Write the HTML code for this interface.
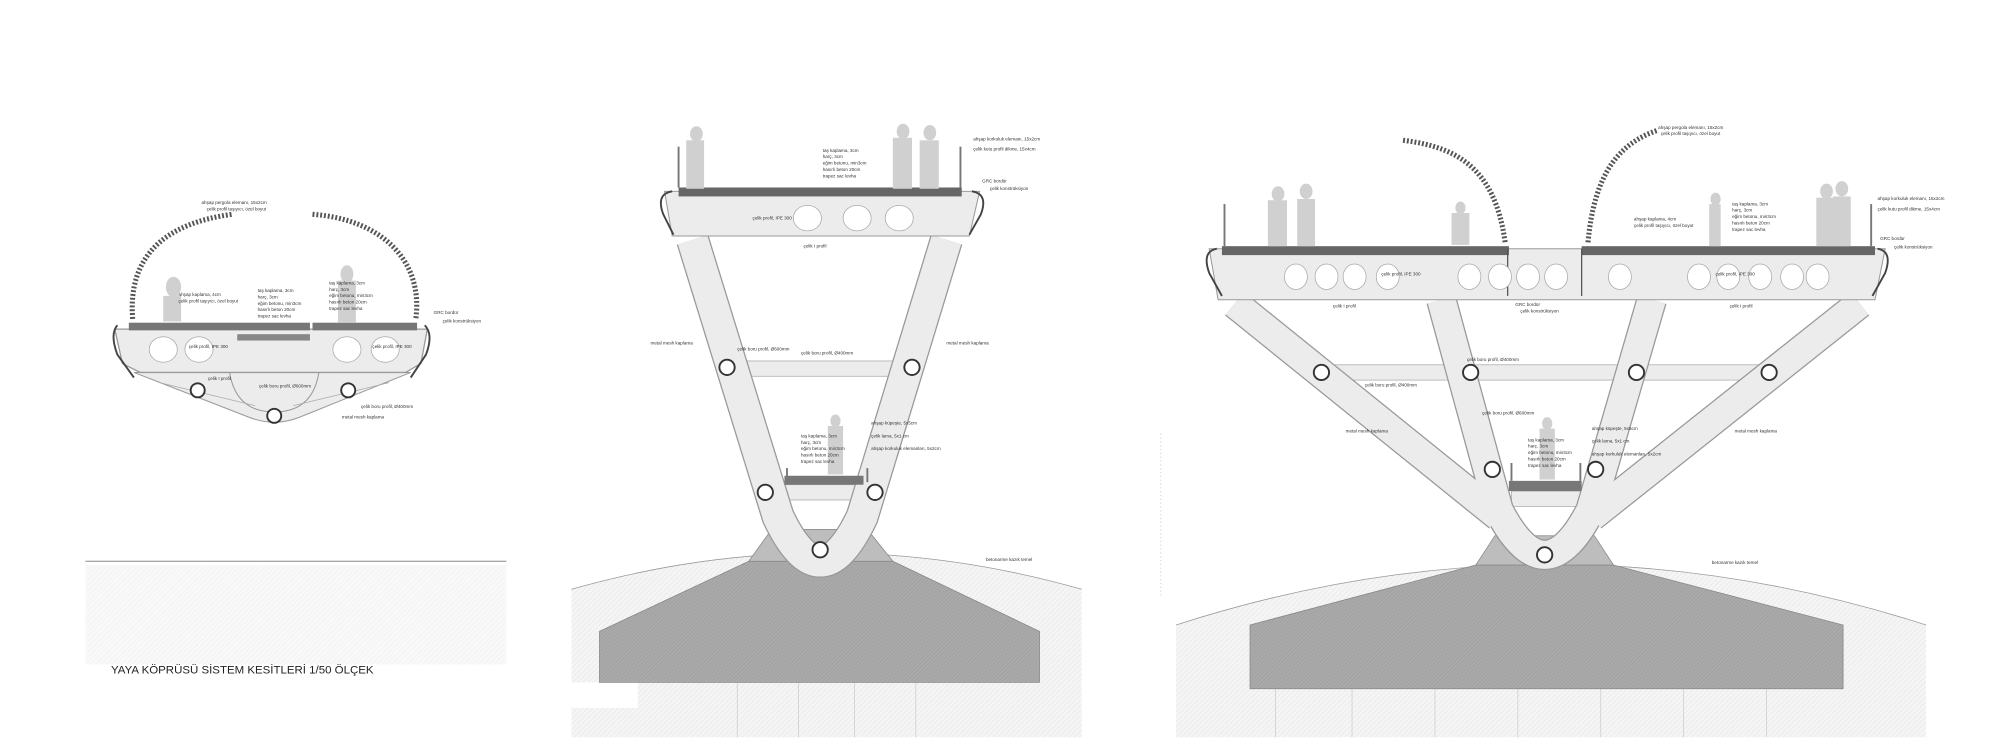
<!DOCTYPE html>
<html><head><meta charset="utf-8"><style>
html,body{margin:0;padding:0;background:#fff;}
svg{display:block;}
text{font-family:"Liberation Sans",sans-serif;fill:#333;}
</style></head><body>
<svg width="2000" height="750" viewBox="0 0 1568 588" xmlns="http://www.w3.org/2000/svg">
<defs>
<pattern id="hat" width="4" height="4" patternUnits="userSpaceOnUse"><rect width="4" height="4" fill="#f5f5f5"/><path d="M0 4L4 0" stroke="#e6e6e6" stroke-width="0.5"/></pattern>
<pattern id="conc" width="3" height="3" patternUnits="userSpaceOnUse"><rect width="3" height="3" fill="#aaa"/><path d="M0 3L3 0" stroke="#9c9c9c" stroke-width="0.5"/></pattern>
</defs>

<!-- ================= LEFT SECTION ================= -->
<g fill="none" stroke="#555" stroke-width="4" stroke-dasharray="1.5 1.5">
<path d="M104 250 C100 200 130 175 182 168"/>
<path d="M245 168 C300 172 332 205 326 250"/>
</g>
<path d="M105 292 L195 327 Q215 335 235 327 L322 292 Z" fill="#ececec" stroke="#999" stroke-width="0.8"/>
<path d="M180 292 Q185 323 215 323 Q245 323 250 292" fill="none" stroke="#999" stroke-width="0.8"/>
<path d="M125 300 L200 318" stroke="#aaa" stroke-width="0.6"/>
<path d="M305 300 L230 318" stroke="#aaa" stroke-width="0.6"/>
<path d="M90 258 L335 258 L330 285 L318 292 L110 292 L96 285 Z" fill="#ececec" stroke="#999"/>
<path d="M92 255 Q86 262 92 278 L105 296" fill="none" stroke="#444" stroke-width="1.5"/>
<path d="M333 255 Q340 262 334 278 L322 296" fill="none" stroke="#444" stroke-width="1.5"/>
<rect x="101" y="253" width="142" height="6" fill="#777"/>
<rect x="245" y="253" width="82" height="6" fill="#777"/>
<rect x="186" y="262" width="57" height="5" fill="#888"/>
<ellipse cx="128" cy="274" rx="11" ry="10" fill="#fff" stroke="#aaa" stroke-width="0.6"/>
<ellipse cx="156" cy="274" rx="11" ry="10" fill="#fff" stroke="#aaa" stroke-width="0.6"/>
<ellipse cx="272" cy="274" rx="11" ry="10" fill="#fff" stroke="#aaa" stroke-width="0.6"/>
<ellipse cx="302" cy="274" rx="11" ry="10" fill="#fff" stroke="#aaa" stroke-width="0.6"/>
<g fill="#fff" stroke="#333" stroke-width="1.5">
<circle cx="155" cy="306" r="5.5"/><circle cx="215" cy="326" r="5.5"/><circle cx="273" cy="306" r="5.5"/>
</g>
<g fill="#d0d0d0"><ellipse cx="136" cy="225" rx="6" ry="8"/><rect x="128" y="232" width="14" height="20"/><ellipse cx="272" cy="215" rx="5" ry="7"/><rect x="265" y="220" width="14" height="33"/></g>
<g font-size="3.6">
<text x="158" y="160">ahşap pergola elemanı, 15x2cm</text><text x="162" y="165">çelik profil taşıyıcı, özel boyut</text>
<text x="140" y="232">ahşap kaplama, 4cm</text><text x="140" y="237">çelik profil taşıyıcı, özel boyut</text>
<text x="202" y="229">taş kaplama, 3cm</text><text x="202" y="234">harç, 3cm</text><text x="202" y="239">eğim betonu, min3cm</text><text x="202" y="244">hasırlı beton 20cm</text><text x="202" y="249">trapez sac levha</text>
<text x="258" y="223">taş kaplama, 3cm</text><text x="258" y="228">harç, 3cm</text><text x="258" y="233">eğim betonu, min3cm</text><text x="258" y="238">hasırlı beton 20cm</text><text x="258" y="243">trapez sac levha</text>
<text x="340" y="246">GRC bordür</text><text x="347" y="253">çelik konstrüksiyon</text>
<text x="148" y="273">çelik profil, IPE 300</text><text x="292" y="273">çelik profil, IPE 300</text>
<text x="163" y="298">çelik I profil</text><text x="203" y="304">çelik boru profil, Ø600mm</text>
<text x="283" y="320">çelik boru profil, Ø400mm</text><text x="268" y="328">metal mesh kaplama</text>
</g>
<line x1="67" y1="440" x2="397" y2="440" stroke="#888" stroke-width="0.8"/>
<rect x="67" y="443" width="330" height="78" fill="url(#hat)" opacity="0.6"/>
<text x="87" y="528" font-size="9" style="fill:#222">YAYA KÖPRÜSÜ SİSTEM KESİTLERİ 1/50 ÖLÇEK</text>
<line x1="910" y1="340" x2="910" y2="468" stroke="#ddd" stroke-width="1" stroke-dasharray="1 2"/>

<!-- ================= MIDDLE SECTION ================= -->
<path d="M448 462 Q648 405 848 462 L848 578 L448 578 Z" fill="url(#hat)"/>
<path d="M448 462 Q648 405 848 462" fill="none" stroke="#999" stroke-width="0.6"/>
<rect x="448" y="535" width="52" height="20" fill="#fff"/>
<g stroke="#ccc" stroke-width="0.6"><line x1="578" y1="535" x2="578" y2="578"/><line x1="626" y1="535" x2="626" y2="578"/><line x1="670" y1="535" x2="670" y2="578"/><line x1="718" y1="535" x2="718" y2="578"/></g>
<path d="M470 495 L587 440 L700 440 L815 495 L815 535 L470 535 Z" fill="url(#conc)" stroke="#888" stroke-width="0.6"/>
<path d="M587 440 L605 415 L680 415 L700 440 Z" fill="#bdbdbd" stroke="#888" stroke-width="0.6"/>
<rect x="582" y="283" width="140" height="12" fill="#ececec" stroke="#aaa" stroke-width="0.6"/>
<rect x="612" y="380" width="68" height="12" fill="#ececec" stroke="#aaa" stroke-width="0.6"/>
<path d="M543 188 L610 405 Q643 475 676 405 L742 188" fill="none" stroke="#999" stroke-width="26"/>
<path d="M543 188 L610 405 Q643 475 676 405 L742 188" fill="none" stroke="#ececec" stroke-width="24"/>
<path d="M521 150 L768 150 L760 185 L527 185 Z" fill="#ececec" stroke="#999" stroke-width="0.8"/>
<path d="M527 150 Q514 152 520 168 L528 184" fill="none" stroke="#444" stroke-width="1.5"/>
<path d="M762 150 Q775 152 769 168 L760 184" fill="none" stroke="#444" stroke-width="1.5"/>
<rect x="532" y="147" width="222" height="7" fill="#666"/>
<g fill="#fff" stroke="#aaa" stroke-width="0.6"><ellipse cx="633" cy="171" rx="11" ry="10"/><ellipse cx="672" cy="171" rx="11" ry="10"/><ellipse cx="705" cy="171" rx="11" ry="10"/></g>
<g stroke="#777" stroke-width="1.5"><line x1="532" y1="115" x2="532" y2="147"/><line x1="753" y1="115" x2="753" y2="147"/><line x1="617" y1="367" x2="617" y2="378"/><line x1="680" y1="367" x2="680" y2="378"/></g>
<rect x="615" y="373" width="62" height="7" fill="#777"/>
<g fill="#d0d0d0"><ellipse cx="546" cy="105" rx="5" ry="6"/><rect x="538" y="110" width="14" height="38"/><ellipse cx="708" cy="103" rx="5" ry="6"/><rect x="700" y="108" width="15" height="40"/><ellipse cx="729" cy="104" rx="5" ry="6"/><rect x="721" y="110" width="15" height="38"/><ellipse cx="655" cy="330" rx="4" ry="5"/><rect x="649" y="334" width="12" height="38"/></g>
<g fill="#fff" stroke="#333" stroke-width="1.5">
<circle cx="570" cy="288" r="6"/><circle cx="715" cy="288" r="6"/><circle cx="600" cy="386" r="6"/><circle cx="686" cy="386" r="6"/><circle cx="643" cy="431" r="6"/>
</g>
<g font-size="3.6">
<text x="645" y="119">taş kaplama, 3cm</text><text x="645" y="124">harç, 3cm</text><text x="645" y="129">eğim betonu, min3cm</text><text x="645" y="134">hasırlı beton 20cm</text><text x="645" y="139">trapez sac levha</text>
<text x="763" y="110">ahşap korkuluk elemanı, 15x2cm</text><text x="763" y="118">çelik kutu profil dikme, 15x4cm</text>
<text x="770" y="143">GRC bordür</text><text x="776" y="149">çelik konstrüksiyon</text>
<text x="590" y="172">çelik profil, IPE 300</text><text x="630" y="194">çelik I profil</text>
<text x="510" y="270">metal mesh kaplama</text><text x="742" y="270">metal mesh kaplama</text>
<text x="578" y="275">çelik boru profil, Ø600mm</text><text x="628" y="278">çelik boru profil, Ø400mm</text>
<text x="683" y="333">ahşap küpeşte, 5x5cm</text><text x="683" y="343">çelik lama, 5x1 cm</text><text x="683" y="353">ahşap korkuluk elemanları, 5x2cm</text>
<text x="628" y="343">taş kaplama, 3cm</text><text x="628" y="348">harç, 3cm</text><text x="628" y="353">eğim betonu, min3cm</text><text x="628" y="358">hasırlı beton 20cm</text><text x="628" y="363">trapez sac levha</text>
<text x="773" y="440">betonarme kazık temel</text>
</g>

<!-- ================= RIGHT SECTION ================= -->
<path d="M922 490 Q1216 395 1510 490 L1510 578 L922 578 Z" fill="url(#hat)"/>
<path d="M922 490 Q1216 395 1510 490" fill="none" stroke="#999" stroke-width="0.6"/>
<g stroke="#ccc" stroke-width="0.6"><line x1="1000" y1="540" x2="1000" y2="578"/><line x1="1060" y1="540" x2="1060" y2="578"/><line x1="1125" y1="540" x2="1125" y2="578"/><line x1="1190" y1="540" x2="1190" y2="578"/><line x1="1255" y1="540" x2="1255" y2="578"/><line x1="1320" y1="540" x2="1320" y2="578"/><line x1="1385" y1="540" x2="1385" y2="578"/></g>
<path d="M980 490 L1157 443 L1265 443 L1445 490 L1445 540 L980 540 Z" fill="url(#conc)" stroke="#888" stroke-width="0.6"/>
<path d="M1157 443 L1172 420 L1250 420 L1265 443 Z" fill="#bdbdbd" stroke="#888" stroke-width="0.6"/>
<rect x="1036" y="286" width="352" height="12" fill="#ececec" stroke="#aaa" stroke-width="0.6"/>
<rect x="1185" y="385" width="55" height="12" fill="#ececec" stroke="#aaa" stroke-width="0.6"/>
<g fill="none" stroke="#999" stroke-width="24">
<path d="M968 238 L1175 405"/><path d="M1458 238 L1248 405"/>
<path d="M1130 235 L1175 400 Q1211 470 1247 400 L1295 235"/>
</g>
<g fill="none" stroke="#ececec" stroke-width="22">
<path d="M968 238 L1175 405"/><path d="M1458 238 L1248 405"/>
<path d="M1130 235 L1175 400 Q1211 470 1247 400 L1295 235"/>
</g>
<path d="M948 195 L1478 195 L1470 235 L955 235 Z" fill="#ececec" stroke="#999" stroke-width="0.8"/>
<path d="M954 195 Q942 197 948 214 L958 232" fill="none" stroke="#444" stroke-width="1.5"/>
<path d="M1472 195 Q1484 197 1478 214 L1468 232" fill="none" stroke="#444" stroke-width="1.5"/>
<rect x="958" y="193" width="225" height="7" fill="#666"/>
<rect x="1240" y="193" width="230" height="7" fill="#666"/>
<line x1="1182" y1="195" x2="1182" y2="232" stroke="#555" stroke-width="1"/>
<line x1="1240" y1="195" x2="1240" y2="232" stroke="#555" stroke-width="1"/>
<g fill="#fff" stroke="#aaa" stroke-width="0.6">
<ellipse cx="1016" cy="217" rx="9" ry="10"/><ellipse cx="1040" cy="217" rx="9" ry="10"/><ellipse cx="1062" cy="217" rx="9" ry="10"/><ellipse cx="1088" cy="217" rx="9" ry="10"/><ellipse cx="1152" cy="217" rx="9" ry="10"/><ellipse cx="1176" cy="217" rx="9" ry="10"/><ellipse cx="1198" cy="217" rx="9" ry="10"/><ellipse cx="1220" cy="217" rx="9" ry="10"/><ellipse cx="1270" cy="217" rx="9" ry="10"/><ellipse cx="1332" cy="217" rx="9" ry="10"/><ellipse cx="1355" cy="217" rx="9" ry="10"/><ellipse cx="1380" cy="217" rx="9" ry="10"/><ellipse cx="1405" cy="217" rx="9" ry="10"/><ellipse cx="1425" cy="217" rx="9" ry="10"/>
</g>
<g fill="none" stroke="#555" stroke-width="4" stroke-dasharray="1.5 1.5">
<path d="M1100 110 C1140 115 1172 130 1180 190"/>
<path d="M1245 190 C1250 135 1270 112 1300 102"/>
</g>
<g stroke="#777" stroke-width="1.5"><line x1="960" y1="160" x2="960" y2="193"/><line x1="1467" y1="160" x2="1467" y2="193"/><line x1="1185" y1="363" x2="1185" y2="377"/><line x1="1239" y1="363" x2="1239" y2="377"/></g>
<rect x="1183" y="377" width="57" height="8" fill="#777"/>
<g fill="#d0d0d0"><ellipse cx="1002" cy="152" rx="5" ry="6"/><rect x="994" y="157" width="15" height="36"/><ellipse cx="1024" cy="150" rx="5" ry="6"/><rect x="1017" y="156" width="14" height="37"/><ellipse cx="1145" cy="163" rx="4" ry="5"/><rect x="1138" y="167" width="14" height="25"/><ellipse cx="1345" cy="156" rx="4" ry="5"/><rect x="1340" y="160" width="9" height="33"/><ellipse cx="1432" cy="150" rx="5" ry="6"/><rect x="1424" y="155" width="15" height="38"/><ellipse cx="1444" cy="148" rx="5" ry="6"/><rect x="1437" y="154" width="14" height="39"/><ellipse cx="1213" cy="332" rx="4" ry="5"/><rect x="1207" y="336" width="12" height="40"/></g>
<g fill="#fff" stroke="#333" stroke-width="1.5">
<circle cx="1036" cy="292" r="6"/><circle cx="1153" cy="292" r="6"/><circle cx="1283" cy="292" r="6"/><circle cx="1387" cy="292" r="6"/><circle cx="1170" cy="368" r="6"/><circle cx="1251" cy="368" r="6"/><circle cx="1211" cy="435" r="6"/>
</g>
<g font-size="3.6">
<text x="1300" y="101">ahşap pergola elemanı, 15x2cm</text><text x="1302" y="106">çelik profil taşıyıcı, özel boyut</text>
<text x="1281" y="173">ahşap kaplama, 4cm</text><text x="1281" y="178">çelik profil taşıyıcı, özel boyut</text>
<text x="1358" y="161">taş kaplama, 3cm</text><text x="1358" y="166">harç, 3cm</text><text x="1358" y="171">eğim betonu, min3cm</text><text x="1358" y="176">hasırlı beton 20cm</text><text x="1358" y="181">trapez sac levha</text>
<text x="1472" y="157">ahşap korkuluk elemanı, 15x2cm</text><text x="1472" y="165">çelik kutu profil dikme, 15x4cm</text>
<text x="1474" y="188">GRC bordür</text><text x="1485" y="195">çelik konstrüksiyon</text>
<text x="1083" y="216">çelik profil, IPE 300</text><text x="1345" y="216">çelik profil, IPE 300</text>
<text x="1188" y="240">GRC bordür</text><text x="1192" y="245">çelik konstrüksiyon</text>
<text x="1045" y="241">çelik I profil</text><text x="1356" y="241">çelik I profil</text>
<text x="1150" y="283">çelik boru profil, Ø400mm</text><text x="1070" y="303">çelik boru profil, Ø400mm</text>
<text x="1162" y="325">çelik boru profil, Ø600mm</text>
<text x="1055" y="339">metal mesh kaplama</text><text x="1360" y="339">metal mesh kaplama</text>
<text x="1248" y="337">ahşap küpeşte, 5x5cm</text><text x="1248" y="347">çelik lama, 5x1 cm</text><text x="1248" y="357">ahşap korkuluk elemanları, 5x2cm</text>
<text x="1198" y="346">taş kaplama, 3cm</text><text x="1198" y="351">harç, 3cm</text><text x="1198" y="356">eğim betonu, min3cm</text><text x="1198" y="361">hasırlı beton 20cm</text><text x="1198" y="366">trapez sac levha</text>
<text x="1342" y="442">betonarme kazık temel</text>
</g>
</svg>
</body></html>
